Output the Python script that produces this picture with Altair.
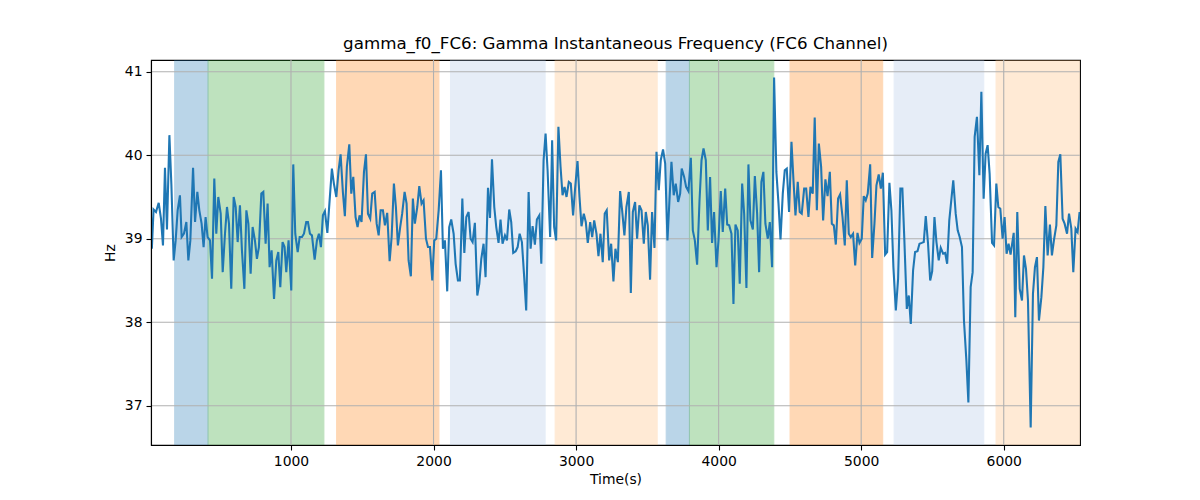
import altair as alt
import pandas as pd

# ---- line data (time in s, instantaneous frequency in Hz) ----
t1 = [18, 24, 36, 53, 72, 88, 102, 116, 130, 147, 161, 177, 191, 205, 221, 233, 249, 266, 280, 294,
      313, 327, 343, 357, 373, 387, 401, 415, 432, 446, 462, 476, 490, 507, 521, 537, 551, 565, 581, 598,
      612, 626, 642, 656, 673, 687, 701, 717, 731, 747, 761, 775, 792, 806, 822, 836, 850, 864, 881, 897,
      911, 925, 941]
h1 = [39.26, 38.88, 39.35, 39.32, 39.43, 39.24, 38.92, 39.85, 39.11, 40.24, 39.65, 38.74, 38.98, 39.34, 39.52, 39.02, 39.06, 39.20, 38.74, 38.98,
      39.85, 39.20, 39.56, 39.34, 39.18, 38.90, 39.26, 39.02, 38.98, 38.52, 39.72, 39.06, 39.50, 39.30, 38.60, 39.06, 39.38, 39.18, 38.40, 39.50,
      39.38, 38.96, 39.40, 38.86, 38.40, 39.34, 39.18, 38.58, 39.14, 38.98, 38.76, 38.90, 39.54, 39.56, 38.94, 39.42, 38.66, 38.86, 38.28, 38.74,
      38.84, 38.42, 38.96]

t2 = [955, 967, 983, 1002, 1016, 1030, 1047, 1061, 1077, 1091, 1107, 1119, 1133, 1147, 1166, 1182, 1196, 1210, 1224, 1238,
      1255, 1271, 1287, 1301, 1318, 1334, 1348, 1364, 1378, 1392, 1409, 1423, 1437, 1453, 1467, 1481, 1495, 1512, 1526, 1540,
      1556, 1570, 1587, 1601, 1615, 1629, 1645, 1659, 1675, 1692, 1706, 1722, 1736, 1750, 1766, 1780, 1797, 1811, 1825, 1841,
      1855, 1869]
h2 = [38.90, 38.60, 38.98, 38.38, 39.89, 39.06, 38.84, 39.02, 39.02, 39.06, 39.20, 39.20, 39.06, 39.04, 38.75, 38.98, 39.06, 38.90, 39.28, 39.33,
      39.07, 39.46, 39.84, 39.66, 39.50, 39.82, 40.01, 39.56, 39.27, 39.86, 40.13, 39.54, 39.74, 39.26, 39.14, 39.28, 39.20, 39.80, 40.01, 39.30,
      39.24, 39.54, 39.56, 39.18, 39.04, 39.34, 39.34, 39.16, 39.31, 38.73, 39.02, 39.66, 39.38, 38.92, 39.14, 39.30, 39.56, 39.42, 38.74, 38.55,
      39.48, 39.18]

t3 = [1886, 1900, 1916, 1930, 1947, 1961, 1975, 1991, 2005, 2019, 2036, 2052, 2066, 2080, 2096, 2110, 2124, 2141, 2155, 2171,
      2185, 2202, 2216, 2230, 2246, 2260, 2274, 2290, 2307, 2321, 2335, 2351, 2365, 2382, 2396, 2410, 2426, 2440, 2456, 2470,
      2484, 2501, 2515, 2531, 2545, 2559, 2576, 2590, 2604, 2620, 2636, 2650, 2667, 2681, 2695, 2711, 2725, 2742, 2756, 2772,
      2786, 2800]
h3 = [39.38, 39.63, 39.42, 39.46, 39.00, 38.90, 38.90, 38.50, 38.98, 39.00, 39.34, 39.82, 38.88, 38.98, 38.37, 39.14, 39.23, 39.06, 38.70, 38.50,
      38.50, 39.48, 38.83, 39.26, 39.32, 39.00, 38.96, 39.19, 38.32, 38.46, 38.76, 38.94, 38.54, 39.61, 39.25, 39.95, 39.38, 39.14, 38.95, 39.23,
      38.94, 39.04, 38.98, 39.35, 39.20, 38.83, 38.85, 38.90, 39.06, 38.96, 38.54, 38.14, 39.56, 38.88, 39.15, 38.93, 39.23, 39.28, 38.70, 39.94,
      40.26, 39.82]

t4 = [2818, 2832, 2846, 2860, 2876, 2891, 2905, 2919, 2933, 2949, 2963, 2979, 2993, 3010, 3024, 3038, 3054, 3068, 3082, 3099,
      3113, 3127, 3143, 3157, 3171, 3187, 3201, 3215, 3232, 3246, 3262, 3276, 3293, 3309, 3323, 3339, 3353, 3370, 3384, 3398,
      3414, 3428, 3444, 3459, 3475, 3489, 3503, 3519, 3533, 3550, 3564, 3580, 3594, 3610, 3625, 3641, 3655, 3669, 3685, 3699,
      3716, 3730, 3741]
h4 = [39.02, 40.18, 39.14, 38.98, 40.34, 39.86, 39.52, 39.62, 39.50, 39.68, 39.66, 39.28, 39.60, 39.93, 39.50, 39.15, 39.30, 39.20, 38.95, 39.20,
      39.02, 39.22, 39.06, 38.79, 39.06, 38.72, 39.30, 39.34, 38.74, 38.94, 38.49, 38.88, 38.72, 39.57, 39.34, 39.04, 39.38, 39.56, 38.35, 39.32,
      39.44, 39.00, 39.40, 39.34, 38.94, 39.32, 39.16, 38.51, 39.32, 38.89, 40.04, 39.58, 39.94, 40.07, 39.90, 38.98, 39.46, 39.92, 39.52, 39.66,
      39.44, 39.54, 39.84]

t5 = [3758, 3772, 3788, 3805, 3819, 3833, 3849, 3866, 3880, 3894, 3910, 3924, 3940, 3954, 3968, 3985, 3999, 4015, 4029, 4046,
      4060, 4074, 4090, 4104, 4118, 4134, 4148, 4165, 4179, 4195, 4209, 4223, 4240, 4254, 4270, 4284, 4300, 4314, 4328, 4345,
      4359, 4375, 4389, 4405, 4420, 4434, 4450, 4464, 4478, 4494, 4511, 4525, 4539, 4555, 4569, 4583, 4600, 4614, 4630, 4644,
      4660, 4674]
h5 = [39.74, 39.62, 39.57, 39.97, 39.10, 38.98, 38.69, 39.46, 39.94, 40.08, 39.94, 39.10, 39.74, 38.95, 39.32, 38.66, 38.98, 39.57, 39.08, 39.60,
      39.17, 39.16, 39.06, 38.22, 39.17, 39.10, 38.46, 39.66, 39.30, 38.41, 39.89, 39.22, 39.11, 39.75, 39.30, 38.60, 39.68, 39.80, 39.18, 39.00,
      39.20, 38.66, 40.93, 39.80, 39.42, 38.99, 39.54, 39.82, 39.84, 39.32, 40.16, 39.70, 39.28, 39.68, 39.32, 39.30, 39.60, 39.60, 39.26, 39.62,
      39.54, 40.45]

t6 = [4689, 4703, 4719, 4733, 4749, 4764, 4780, 4794, 4808, 4822, 4838, 4852, 4869, 4885, 4899, 4913, 4927, 4943, 4958, 4974,
      4988, 5004, 5018, 5032, 5046, 5063, 5077, 5093, 5107, 5123, 5138, 5152, 5168, 5182, 5198, 5212, 5226, 5243, 5259, 5275,
      5289, 5303, 5320, 5334, 5348, 5364, 5378, 5395, 5409, 5425, 5439, 5453, 5469, 5484, 5498, 5514, 5528, 5544, 5558, 5575,
      5589, 5603]
h6 = [39.34, 40.14, 39.86, 39.22, 39.71, 39.51, 39.80, 39.18, 39.16, 38.93, 39.48, 39.53, 39.26, 38.92, 39.70, 39.06, 39.02, 39.06, 38.68, 39.07,
      38.95, 39.00, 39.51, 39.46, 39.54, 39.89, 38.77, 39.18, 39.64, 39.77, 39.60, 39.79, 38.81, 38.84, 39.67, 39.34, 38.66, 38.14, 38.52, 39.60,
      39.60, 38.98, 38.16, 38.32, 37.98, 38.62, 38.84, 38.85, 38.94, 38.95, 38.96, 39.27, 38.94, 38.50, 38.61, 39.26, 38.96, 38.74, 38.89, 38.82,
      38.83, 38.70]

t7 = [5618, 5632, 5646, 5663, 5677, 5691, 5707, 5721, 5738, 5752, 5768, 5782, 5796, 5812, 5829, 5843, 5859, 5873, 5887, 5901,
      5918, 5932, 5948, 5962, 5976, 5992, 6006, 6020, 6034, 6048, 6070, 6081, 6095, 6112, 6128, 6142, 6156, 6170, 6189, 6205,
      6219, 6233, 6247, 6264, 6278, 6292, 6308, 6324, 6338, 6352, 6369, 6383, 6397, 6413, 6427, 6444, 6458, 6474, 6488, 6504,
      6518, 6532]
h7 = [39.22, 39.46, 39.70, 39.30, 39.10, 39.02, 38.90, 38.02, 37.54, 37.04, 38.42, 38.60, 40.22, 40.46, 39.76, 40.76, 39.48, 40.02, 40.12, 39.78,
      38.95, 38.92, 39.66, 39.38, 39.36, 39.00, 39.26, 38.82, 38.94, 38.81, 39.07, 38.06, 39.32, 38.40, 38.26, 38.80, 38.64, 38.26, 36.74, 38.34,
      38.66, 38.78, 38.02, 38.30, 38.66, 39.39, 38.80, 39.17, 38.80, 38.98, 39.16, 39.92, 40.01, 39.24, 39.18, 39.06, 39.30, 39.12, 38.60, 39.12,
      39.08, 39.32]

# ---- shaded intervals ----
span_start = [184, 418, 1320, 2119, 2853, 3632, 3795, 4501, 5231, 5946]
span_end = [418, 1231, 2038, 2783, 3569, 3795, 4387, 5151, 5860, 6535]
span_kind = ["k1", "k2", "k3", "k4", "k5", "k1", "k2", "k3", "k4", "k5"]

# ---- axes ----
x_ticks = [1000, 2000, 3000, 4000, 5000, 6000]
y_ticks = [37, 38, 39, 40, 41]
x_domain = [18, 6535]
y_domain = [36.53, 41.14]

time = t1 + t2 + t3 + t4 + t5 + t6 + t7
hz = h1 + h2 + h3 + h4 + h5 + h6 + h7

line_df = pd.DataFrame({"time": time, "hz": hz})
span_df = pd.DataFrame({"start": span_start, "end": span_end, "kind": span_kind})
xt_df = pd.DataFrame({"v": x_ticks})
yt_df = pd.DataFrame({"v": y_ticks})

FONT = "DejaVu Sans"
xscale = alt.Scale(domain=x_domain, nice=False, zero=False)
yscale = alt.Scale(domain=y_domain, nice=False, zero=False)

axis_common = dict(
    grid=False, labelFont=FONT, labelFontSize=13.9, labelColor="black",
    titleFont=FONT, titleFontSize=13.9, titleFontWeight="normal", titleColor="black",
    tickColor="black", tickSize=5, tickWidth=1.1, domainColor="black", domainWidth=1.1,
    labelPadding=4, format="d", zindex=1,
)
xaxis = alt.Axis(values=x_ticks, title="Time(s)", titlePadding=5, **axis_common)
yaxis = alt.Axis(values=y_ticks, title="Hz", titlePadding=7, **axis_common)

kind_scale = alt.Scale(domain=["k1", "k2", "k3", "k4", "k5"],
                       range=["#1f77b4", "#2ca02c", "#ff7f0e", "#aec7e8", "#ffbb78"])

spans = alt.Chart(span_df).mark_rect(opacity=0.3, strokeWidth=1, clip=True).encode(
    x=alt.X("start:Q", scale=xscale, axis=xaxis),
    x2="end:Q",
    color=alt.Color("kind:N", legend=None, scale=kind_scale),
    stroke=alt.Stroke("kind:N", legend=None, scale=kind_scale),
)

xgrid = alt.Chart(xt_df).mark_rule(color="#b0b0b0", strokeWidth=1.1).encode(
    x=alt.X("v:Q", scale=xscale, axis=xaxis)
)
ygrid = alt.Chart(yt_df).mark_rule(color="#b0b0b0", strokeWidth=1.1).encode(
    y=alt.Y("v:Q", scale=yscale, axis=yaxis)
)

line = alt.Chart(line_df).mark_line(color="#1f77b4", strokeWidth=2.08, clip=True).encode(
    x=alt.X("time:Q", scale=xscale, axis=xaxis),
    y=alt.Y("hz:Q", scale=yscale, axis=yaxis),
)

chart = alt.layer(spans, xgrid, ygrid, line).properties(
    width=929,
    height=385,
    title=alt.TitleParams(
        text="gamma_f0_FC6: Gamma Instantaneous Frequency (FC6 Channel)",
        font=FONT, fontSize=16.7, fontWeight="normal", color="black",
        anchor="middle", offset=7,
    ),
    padding={"left": 143, "top": 52, "right": 112, "bottom": 47},
    autosize=alt.AutoSizeParams(type="none"),
).configure_view(stroke="black", strokeWidth=1.1)

chart.save("out.html", embed_options={"renderer": "svg", "actions": False})
